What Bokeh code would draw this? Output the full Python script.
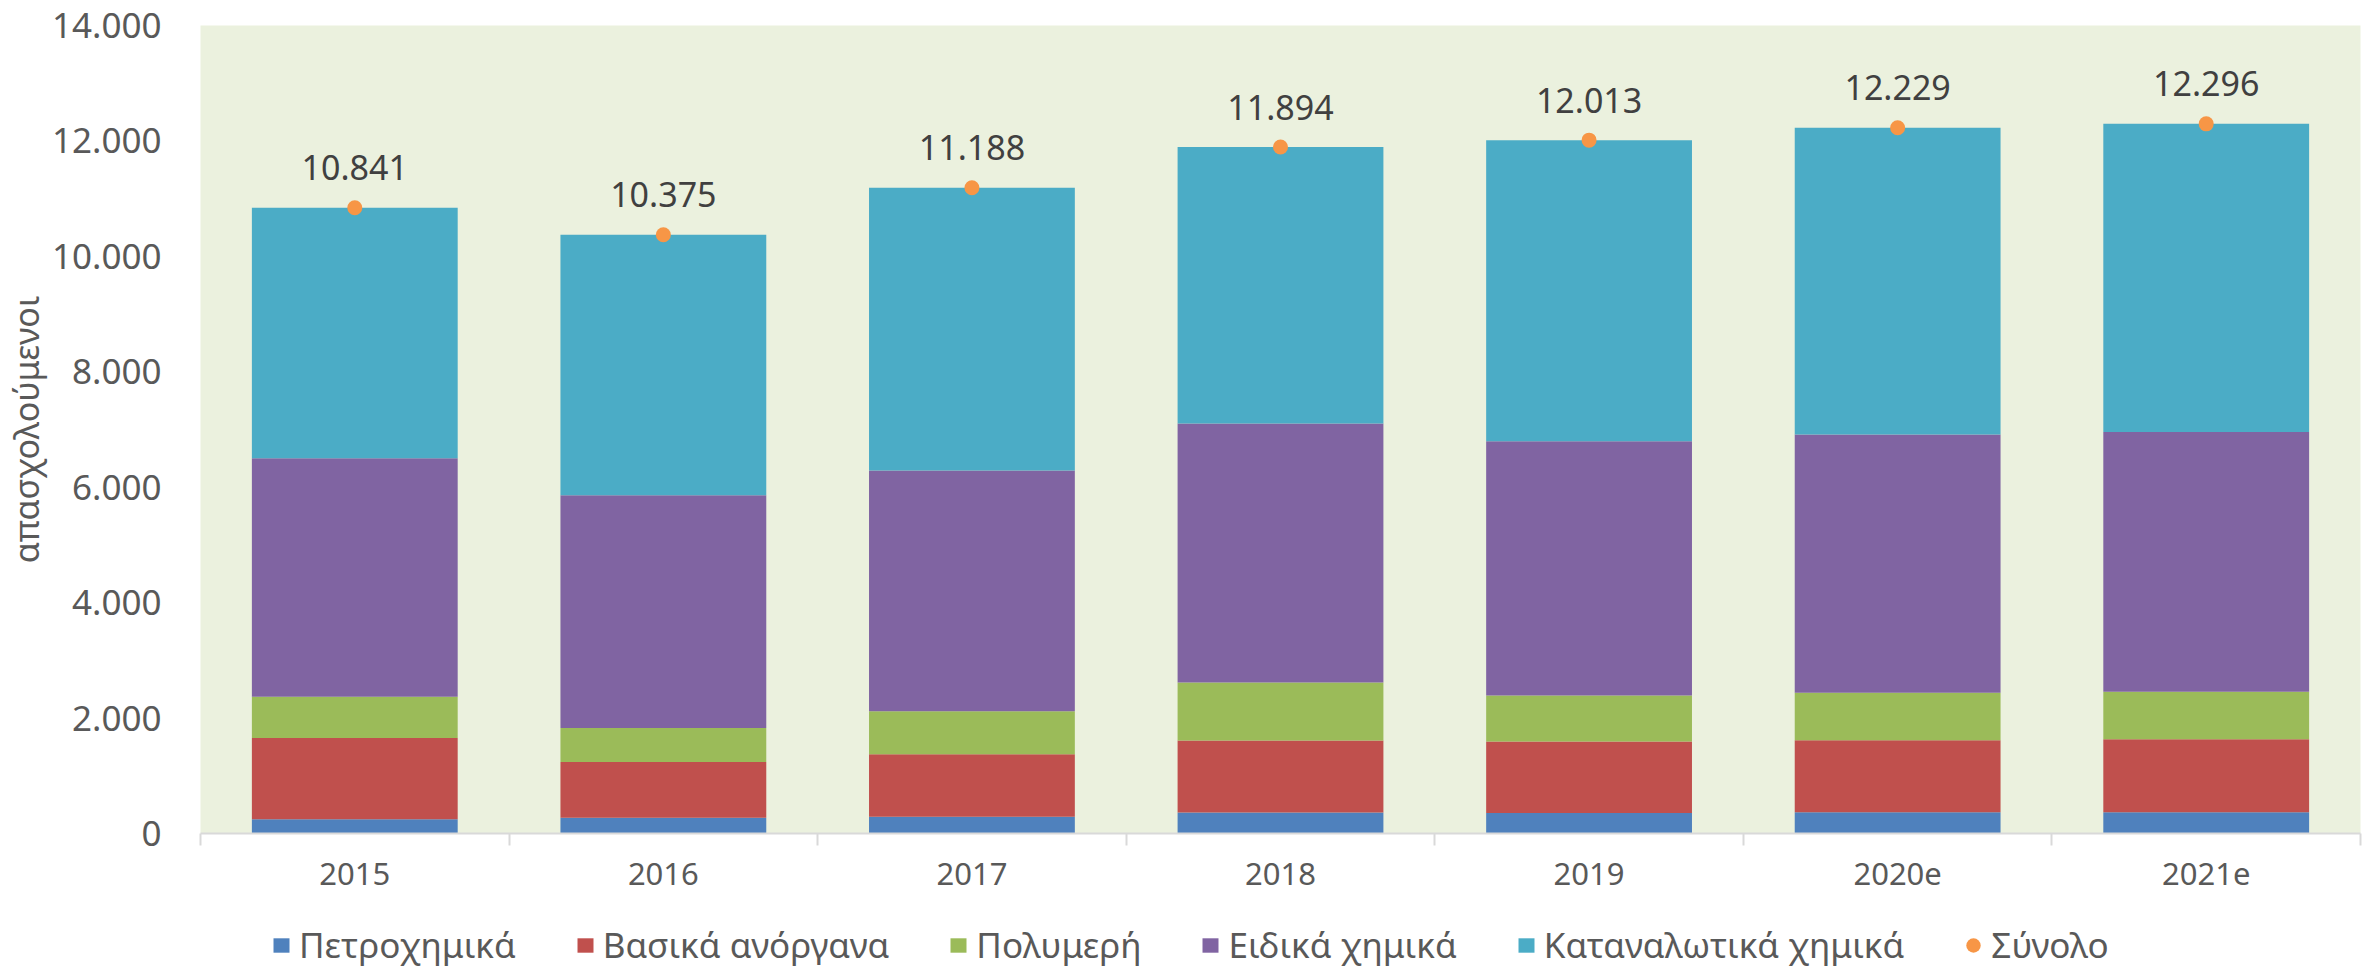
from bokeh.plotting import figure
from bokeh.layouts import column
from bokeh.models import ColumnDataSource, Range1d, FixedTicker, Legend, LegendItem, LabelSet
from bokeh.core.properties import value
from bokeh.embed import file_html
from bokeh.resources import INLINE

years = ["2015", "2016", "2017", "2018", "2019", "2020e", "2021e"]
series_names = ["Πετροχημικά", "Βασικά ανόργανα", "Πολυμερή", "Ειδικά χημικά", "Καταναλωτικά χημικά"]
petro = [248, 274, 291, 366, 357, 368, 368]
basic = [1407, 965, 1080, 1246, 1239, 1246, 1264]
polymers = [715, 590, 748, 1006, 797, 825, 825]
special = [4132, 4031, 4172, 4487, 4405, 4474, 4501]
consumer = [4339, 4515, 4897, 4789, 5215, 5316, 5338]
totals = [10841, 10375, 11188, 11894, 12013, 12229, 12296]
total_name = "Σύνολο"
y_ticks = [0, 2000, 4000, 6000, 8000, 10000, 12000, 14000]
y_label = "απασχολούμενοι"

colors = ["#4F81BD", "#C0504D", "#9BBB59", "#8064A2", "#4BACC6"]
dot_color = "#F79646"
FONT = "Noto Sans"


def fmt(v):
    return f"{v:,}".replace(",", ".")


xs = [i + 0.5 for i in range(len(years))]
keys = ["s0", "s1", "s2", "s3", "s4"]
data = dict(x=xs, s0=petro, s1=basic, s2=polymers, s3=special, s4=consumer,
            total=totals, label=[fmt(t) for t in totals])
src = ColumnDataSource(data)

p = figure(frame_width=2160, frame_height=808, output_backend="svg", toolbar_location=None,
           x_range=Range1d(0, len(years)), y_range=Range1d(0, 14000),
           min_border_left=196, min_border_right=5, min_border_top=25, min_border_bottom=70)
p.background_fill_color = "#EBF1DE"
p.border_fill_color = "white"
p.outline_line_color = None
p.xgrid.visible = False
p.ygrid.visible = False

bars = p.vbar_stack(keys, x="x", width=0.667, source=src, color=colors, line_color=None)
dots = p.scatter(x="x", y="total", source=src, size=15, color=dot_color, line_color=None)

labels = LabelSet(x="x", y="total", text="label", source=src, text_align="center",
                  text_baseline="middle", y_offset=40, text_font=value(FONT),
                  text_font_size=value("34px"), text_color=value("#404040"))
p.add_layout(labels)

# x axis
xa = p.xaxis[0]
xa.ticker = FixedTicker(ticks=xs, minor_ticks=list(range(len(years) + 1)))
xa.major_label_overrides = {x: y for x, y in zip(xs, years)}
xa.axis_line_color = "#D9D9D9"
xa.axis_line_width = 2
xa.major_tick_line_color = None
xa.major_tick_out = 0
xa.major_tick_in = 0
xa.minor_tick_line_color = "#D9D9D9"
xa.minor_tick_line_width = 2
xa.minor_tick_out = 12
xa.minor_tick_in = 0
xa.major_label_standoff = 17
xa.major_label_text_font = FONT
xa.major_label_text_font_size = "31px"
xa.major_label_text_color = "#595959"

# y axis
ya = p.yaxis[0]
ya.ticker = FixedTicker(ticks=y_ticks)
ya.major_label_overrides = {v: fmt(v) for v in y_ticks}
ya.axis_line_color = None
ya.major_tick_line_color = None
ya.minor_tick_line_color = None
ya.major_tick_out = 0
ya.major_tick_in = 0
ya.major_label_standoff = 39
ya.major_label_text_font = FONT
ya.major_label_text_font_size = "35px"
ya.major_label_text_color = "#595959"
ya.axis_label = y_label
ya.axis_label_text_font = FONT
ya.axis_label_text_font_size = "34px"
ya.axis_label_text_font_style = "normal"
ya.axis_label_text_color = "#595959"
ya.axis_label_standoff = 0

# legend strip below the chart (same series, kept out of view)
lg = figure(width=2361, height=65, output_backend="svg", toolbar_location=None,
            x_range=Range1d(1000, 1001), y_range=Range1d(1000000, 1000001),
            x_axis_location=None, y_axis_location=None,
            min_border_left=196, min_border_right=5, min_border_top=0, min_border_bottom=0)
lg.outline_line_color = None
lg.xgrid.visible = False
lg.ygrid.visible = False
lbars = lg.vbar_stack(keys, x="x", width=0.667, source=src, color=colors, line_color=None)
ldots = lg.ellipse(x="x", y="total", source=src, width=15, height=15,
                   width_units="screen", height_units="screen",
                   fill_color=dot_color, line_color=None)

items = [LegendItem(label=n, renderers=[r]) for n, r in zip(series_names, lbars)]
items.append(LegendItem(label=total_name, renderers=[ldots]))
legend = Legend(items=items, orientation="horizontal", location=(71, 0),
                padding=0, margin=0, spacing=59, label_standoff=8,
                glyph_width=20, glyph_height=18,
                label_text_font=FONT, label_text_font_size="35px",
                label_text_color="#595959", border_line_color=None,
                background_fill_alpha=0)
lg.add_layout(legend, "center")

layout = column(p, lg, spacing=0)
open("out.html", "w").write(file_html(layout, INLINE))
